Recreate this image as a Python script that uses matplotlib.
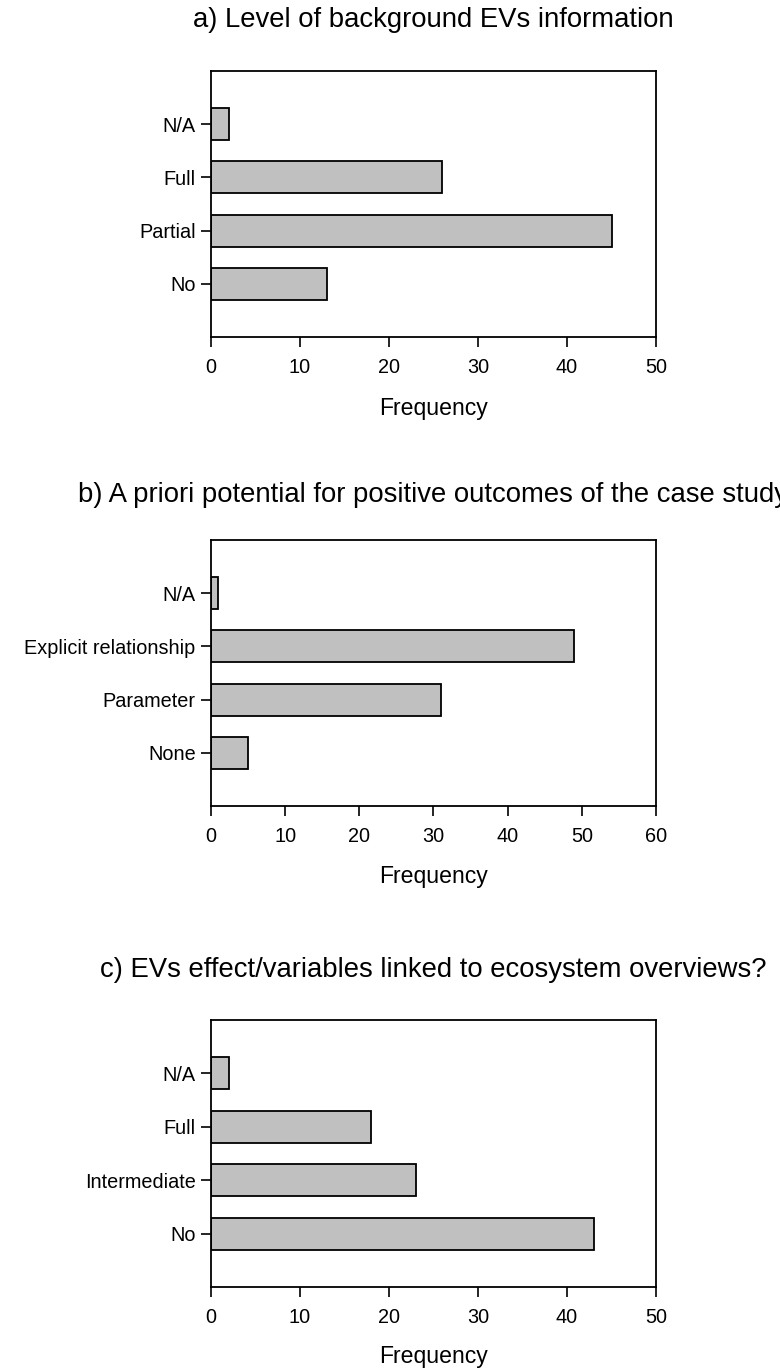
import matplotlib.pyplot as plt

plt.rcParams['font.family'] = ['Liberation Sans', 'DejaVu Sans']

# frequencies per answer category, listed bottom to top
cats_a = ['No', 'Partial', 'Full', 'N/A']
freq_a = [13, 45, 26, 2]
title_a = 'a) Level of background EVs information'

cats_b = ['None', 'Parameter', 'Explicit relationship', 'N/A']
freq_b = [5, 31, 49, 1]
title_b = 'b) A priori potential for positive outcomes of the case study'

cats_c = ['No', 'Intermediate', 'Full', 'N/A']
freq_c = [43, 23, 18, 2]
title_c = 'c) EVs effect/variables linked to ecosystem overviews?'

xmax = [50, 60, 50]

W, H = 780, 1369
fig = plt.figure(figsize=(W / 100, H / 100), dpi=100)

# pixel boxes: (top, bottom) of each axes, title centre, xlabel centre
panels = [
    (cats_a, freq_a, title_a, 71, 337, 20, 408),
    (cats_b, freq_b, title_b, 540, 806, 495, 877),
    (cats_c, freq_c, title_c, 1020, 1287, 970, 1356),
]
left, right = 211, 656

for i, (cats, freq, title, top, bot, ty, ly) in enumerate(panels):
    ax = fig.add_axes([left / W, 1 - bot / H, (right - left) / W, (bot - top) / H])
    pos = list(range(1, len(cats) + 1))
    ax.barh(pos, freq, height=0.6, color='#c0c0c0', edgecolor='black', linewidth=1.3)
    ax.set_ylim(0, len(cats) + 1)
    ax.set_xlim(0, xmax[i])
    ax.set_yticks(pos)
    ax.set_yticklabels(cats)
    ax.set_xticks(range(0, xmax[i] + 1, 10))
    ax.tick_params(axis='both', direction='out', length=7, width=1.2, labelsize=14.3,
                   pad=4, colors='black')
    ax.tick_params(axis='x', pad=8)
    for s in ax.spines.values():
        s.set_linewidth(1.3)
    fig.text((left + right) / 2 / W, 1 - ty / H, title, ha='center', va='center', fontsize=19.8)
    fig.text((left + right) / 2 / W, 1 - ly / H, 'Frequency', ha='center', va='center', fontsize=16.6)

fig.savefig('out.png', dpi=100, facecolor='white')
